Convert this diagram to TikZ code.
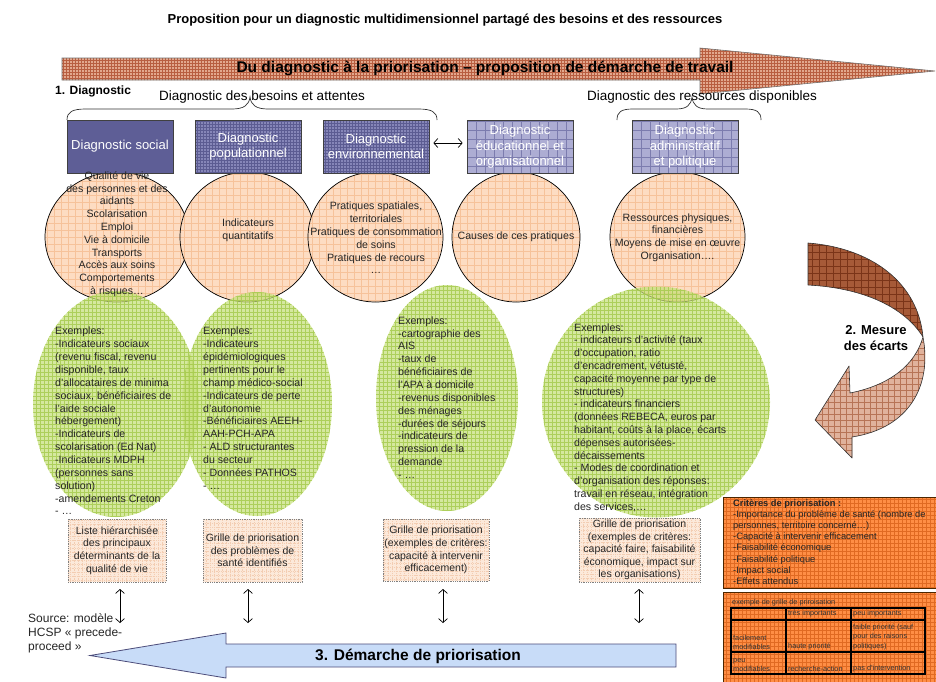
\documentclass[tikz,border=0pt]{standalone}
\usepackage{fontspec}
\setmainfont{Liberation Sans}
\usetikzlibrary{arrows.meta,shapes.geometric}

\definecolor{hdrdark}{HTML}{5E5E96}
\definecolor{hdrmid}{HTML}{8686B8}
\definecolor{hdrmidline}{HTML}{5C5C92}
\definecolor{hdrlight}{HTML}{ADADD3}
\definecolor{hdrlightline}{HTML}{7C7CAE}
\definecolor{peach}{HTML}{FDDCC2}
\definecolor{peachline}{HTML}{F6C29A}
\definecolor{leaf}{HTML}{C6E07A}
\definecolor{leafline}{HTML}{A4C94A}
\definecolor{paleorange}{HTML}{FCE9DA}
\definecolor{paleline}{HTML}{F3CDB2}
\definecolor{orangebox}{HTML}{FF8E45}
\definecolor{orangeline}{HTML}{E06A22}
\definecolor{rust}{HTML}{E2A88E}
\definecolor{rustline}{HTML}{B85E40}
\definecolor{skyfill}{HTML}{C8DCF8}
\definecolor{darkbrown}{HTML}{A65A38}
\definecolor{darkbrownline}{HTML}{7A3418}
\definecolor{lightbrown}{HTML}{E0B29C}
\definecolor{lightbrownline}{HTML}{B77456}

\tikzset{
  gridded/.style 2 args={path picture={
      \draw[#1, line width=0.35pt] (path picture bounding box.south west)
        grid[step=#2] (path picture bounding box.north east);}},
  hdr/.style={draw=black!75, line width=0.7pt, minimum width=106pt,
      minimum height=53pt, inner sep=1pt, text=white, align=center,
      font=\fontsize{13}{15.5}\selectfont},
  circ/.style={ellipse, draw=black, line width=0.7pt, fill=peach,
      gridded={peachline}{7pt}, inner sep=0pt},
  leafell/.style={ellipse, fill=leaf, fill opacity=0.72, inner sep=0pt,
      path picture={\draw[leafline, line width=0.35pt, opacity=0.8]
        (path picture bounding box.south west) grid[step=4pt]
        (path picture bounding box.north east);}},
  circtext/.style={align=center, inner sep=0pt, text=black!85,
      font=\fontsize{10.6}{12.8}\selectfont},
  extext/.style={align=left, inner sep=0pt, anchor=north west, text=black!85,
      font=\fontsize{10.6}{12.86}\selectfont},
  outbox/.style={draw=black!50, densely dotted, line width=0.8pt,
      fill=paleorange, gridded={paleline}{4pt}, align=center, inner sep=1pt,
      text=black!85, font=\fontsize{10.5}{12.6}\selectfont},
  dbl/.style={{Straight Barb[length=4pt,width=9pt]}-{Straight Barb[length=4pt,width=9pt]},
      line width=0.7pt},
  lbl/.style={inner sep=0pt, font=\fontsize{13.5}{16}\selectfont},
  orangepanel/.style={draw=black!70!orange, line width=0.9pt, fill=orangebox,
      gridded={orangeline}{4pt}, inner sep=0pt, anchor=north west},
  tiny/.style={inner sep=0pt, align=left, text=black!80,
      font=\fontsize{7.3}{9.4}\selectfont},
}

\begin{document}
\begin{tikzpicture}[x=1pt,y=-1pt]
\useasboundingbox (0,0) rectangle (936,681);
\clip (0,0) rectangle (936,681);
\fill[white] (0,0) rectangle (936,681);

% title
\node[inner sep=0pt, font=\bfseries\fontsize{13}{15}\selectfont] (title) at (445,20)
  {Proposition pour un diagnostic multidimensionnel partagé des besoins et des ressources};

% top arrow
\draw[fill=rust, draw=black!55, line width=0.6pt, gridded={rustline}{3pt}]
  (62,58) -- (700,58) -- (700,48) -- (935,71) -- (700,94) -- (700,80) -- (62,80) -- cycle;
\node[inner sep=0pt, font=\bfseries\fontsize{15.5}{18}\selectfont] (toptext) at (485,68)
  {Du diagnostic à la priorisation – proposition de démarche de travail};

% stage labels
\node[anchor=west, inner sep=0pt, font=\bfseries\fontsize{12}{14}\selectfont] (step1) at (55,91) {1. Diagnostic};
\node[lbl] (besoins) at (262,97) {Diagnostic des besoins et attentes};
\node[lbl] (ressources) at (702,97) {Diagnostic des ressources disponibles};

% braces
\draw[line width=0.7pt, black!80]
  (67,120) .. controls (67,112) and (72,109) .. (86,109) -- (232,109)
  .. controls (244,109) and (249,105) .. (250,97)
  .. controls (251,105) and (256,109) .. (268,109) -- (418,109)
  .. controls (432,109) and (437,112) .. (437,120);
\draw[line width=0.7pt, black!80]
  (617,120) .. controls (617,112) and (621,109) .. (633,109) -- (676,109)
  .. controls (687,109) and (691,105) .. (692,97)
  .. controls (693,105) and (697,109) .. (708,109) -- (745,109)
  .. controls (757,109) and (761,112) .. (761,120);

% peach circles
\node[circ, minimum width=144pt, minimum height=130pt] (c1) at (117,237) {};
\node[circ, minimum width=135pt, minimum height=130pt] (c2) at (247.5,237) {};
\node[circ, minimum width=135pt, minimum height=130pt] (c3) at (375.5,237) {};
\node[circ, minimum width=128pt, minimum height=130pt] (c4) at (516,237) {};
\node[circ, minimum width=135pt, minimum height=130pt] (c5) at (677.5,237) {};

% header boxes
\node[hdr, fill=hdrdark] (h1) at (120,146.5) {Diagnostic social};
\node[hdr, fill=hdrmid, gridded={hdrmidline}{3pt}] (h2) at (248,146.5) {Diagnostic\\populationnel};
\node[hdr, fill=hdrmid, gridded={hdrmidline}{3pt}] (h3) at (376,146.5) {Diagnostic\\environnemental};
\node[hdr, fill=hdrlight, gridded={hdrlightline}{9pt}] (h4) at (520,147) {Diagnostic\\éducationnel et\\organisationnel};
\node[hdr, fill=hdrlight, gridded={hdrlightline}{9pt}] (h5) at (685,147) {Diagnostic\\administratif\\et politique};
\draw[dbl] ([shift={(4,-3.5)}]h3.east) -- ([shift={(-4,-4)}]h4.west);

% green ellipses
\node[leafell, minimum width=166pt, minimum height=226pt] (e1) at (116,404) {};
\node[leafell, minimum width=150pt, minimum height=224pt] (e2) at (257,404) {};
\node[leafell, minimum width=142pt, minimum height=226pt] (e3) at (447,398) {};
\node[leafell, minimum width=228pt, minimum height=231pt] (e4) at (656,402) {};

% circle texts
\node[circtext] (c1t) at (117,234) {Qualité de vie\\des personnes et des\\aidants\\Scolarisation\\Emploi\\Vie à domicile\\Transports\\Accès aux soins\\Comportements\\à risques…};
\node[circtext] (c2t) at (248,230.5) {Indicateurs\\quantitatifs};
\node[circtext] (c3t) at (376,238) {Pratiques spatiales,\\territoriales\\Pratiques de consommation\\de soins\\Pratiques de recours\\…};
\node[circtext] (c4t) at (516,237) {Causes de ces pratiques};
\node[circtext] (c5t) at (677.5,237.5) {Ressources physiques,\\financières\\Moyens de mise en œuvre\\Organisation….};

% example texts
\node[extext] (e1t) at (55,327) {Exemples:\\-Indicateurs sociaux\\(revenu fiscal, revenu\\disponible, taux\\d'allocataires de minima\\sociaux, bénéficiaires de\\l'aide sociale\\hébergement)\\-Indicateurs de\\scolarisation (Ed Nat)\\-Indicateurs MDPH\\(personnes sans\\solution)\\-amendements Creton\\- …};
\node[extext] (e2t) at (203,327) {Exemples:\\-Indicateurs\\épidémiologiques\\pertinents pour le\\champ médico-social\\-Indicateurs de perte\\d'autonomie\\-Bénéficiaires AEEH-\\AAH-PCH-APA\\- ALD structurantes\\du secteur\\- Données PATHOS\\- …};
\node[extext] (e3t) at (398,316.3) {Exemples:\\-cartographie des\\AIS\\-taux de\\bénéficiaires de\\l'APA à domicile\\-revenus disponibles\\des ménages\\-durées de séjours\\-indicateurs de\\pression de la\\demande\\- …};
\node[extext, font=\fontsize{10.6}{12.8}\selectfont] (e4t) at (574,323.3) {Exemples:\\- indicateurs d'activité (taux\\d'occupation, ratio\\d'encadrement, vétusté,\\capacité moyenne par type de\\structures)\\- indicateurs financiers\\(données REBECA, euros par\\habitant, coûts à la place, écarts\\dépenses autorisées-\\décaissements\\- Modes de coordination et\\d'organisation des réponses:\\travail en réseau, intégration\\des services,…};

% output boxes
\node[outbox, minimum width=98pt, minimum height=63pt] (b1) at (117,550.5) {Liste hiérarchisée\\des principaux\\déterminants de la\\qualité de vie};
\node[outbox, minimum width=99pt, minimum height=63pt] (b2) at (252.5,550.5) {Grille de priorisation\\des problèmes de\\santé identifiés};
\node[outbox, minimum width=106pt, minimum height=62pt] (b3) at (436,550) {Grille de priorisation\\(exemples de critères:\\capacité à intervenir\\efficacement)};
\node[outbox, minimum width=121pt, minimum height=64pt] (b4) at (639.5,550) {Grille de priorisation\\(exemples de critères:\\capacité faire, faisabilité\\économique, impact sur\\les organisations)};

% links towards the prioritisation arrow
\coordinate (a1t) at (120,589); \coordinate (a1b) at (120,623);
\coordinate (a2t) at (248,589); \coordinate (a2b) at (248,623);
\coordinate (a3t) at (443,589); \coordinate (a3b) at (443,623);
\coordinate (a4t) at (639,589); \coordinate (a4b) at (639,623);
\draw[dbl] (a1t) -- (a1b);
\draw[dbl] (a2t) -- (a2b);
\draw[dbl] (a3t) -- (a3b);
\draw[dbl] (a4t) -- (a4b);

\node[anchor=north west, inner sep=0pt, align=left, text=black!85,
  font=\fontsize{12}{14}\selectfont] (source) at (28,613.5)
  {Source: modèle\\HCSP « precede-\\proceed »};

% bottom arrow
\draw[fill=skyfill, draw=black!55!blue!40!gray, line width=0.8pt]
  (676,644) -- (226,644) -- (226,633) -- (90,655.5) -- (226,678) -- (226,667) -- (676,667) -- cycle;
\node[inner sep=0pt, font=\bfseries\fontsize{15.5}{18}\selectfont] (step3) at (418,656) {3. Démarche de priorisation};

% curved arrow: measuring the gaps
\fill[darkbrown, gridded={darkbrownline}{7pt}]
  (808,243) .. controls (872,248) and (918,283) .. (923,337)
  .. controls (905,308) and (865,288) .. (808,285) -- cycle;
\fill[lightbrown, gridded={lightbrownline}{6pt}]
  (923,337) .. controls (932,385) and (910,428) .. (852,437)
  -- (852,458) -- (815,420) -- (849,366) -- (850,393)
  .. controls (890,385) and (915,365) .. (923,337) -- cycle;
\draw[black!80, line width=0.6pt, line join=round]
  (808,243) .. controls (872,248) and (918,283) .. (923,337)
  .. controls (932,385) and (910,428) .. (852,437)
  -- (852,458) -- (815,420) -- (849,366) -- (850,393)
  .. controls (890,385) and (915,365) .. (923,337)
  .. controls (905,308) and (865,288) .. (808,285) -- cycle;
\node[align=center, inner sep=0pt, font=\bfseries\fontsize{13}{16.5}\selectfont] (step2) at (876,338) {2. Mesure\\des écarts};

% criteria panel
\node[orangepanel, minimum width=230pt, minimum height=91pt] (crit) at (723,497) {};
\node[anchor=north west, inner sep=0pt, align=left, text=black!85,
  font=\fontsize{9.3}{11.1}\selectfont] (critt) at (733,499.5)
  {\textbf{Critères de priorisation :}\\-Importance du problème de santé (nombre de\\personnes, territoire concerné…)\\-Capacité à intervenir efficacement\\-Faisabilité économique\\-Faisabilité politique\\-Impact social\\-Effets attendus};

% example grid panel
\node[orangepanel, minimum width=230pt, minimum height=100pt] (grid) at (723,592) {};
\node[tiny, anchor=west] (gridtitle) at (732,603) {exemple de grille de priroisation};
\draw[line width=1.3pt] (731,608) rectangle (925,674);
\draw[line width=1.3pt] (786,608) -- (786,674) (851,608) -- (851,674)
  (731,620) -- (925,620) (731,652) -- (925,652);
\node[tiny, anchor=west] (g12) at (788,613.5) {très importants};
\node[tiny, anchor=west] (g13) at (853,613.5) {peu importants};
\node[tiny, anchor=south west] (g21) at (733,650) {facilement\\modifiables};
\node[tiny, anchor=south west] (g22) at (788,650) {haute priorité};
\node[tiny, anchor=south west] (g23) at (853,650) {faible priorité (sauf\\pour des raisons\\politiques)};
\node[tiny, anchor=south west] (g31) at (733,672) {peu\\modifiables};
\node[tiny, anchor=south west] (g32) at (788,672) {recherche-action};
\node[tiny, anchor=south west] (g33) at (853,672) {pas d'intervention};
\end{tikzpicture}
\end{document}
